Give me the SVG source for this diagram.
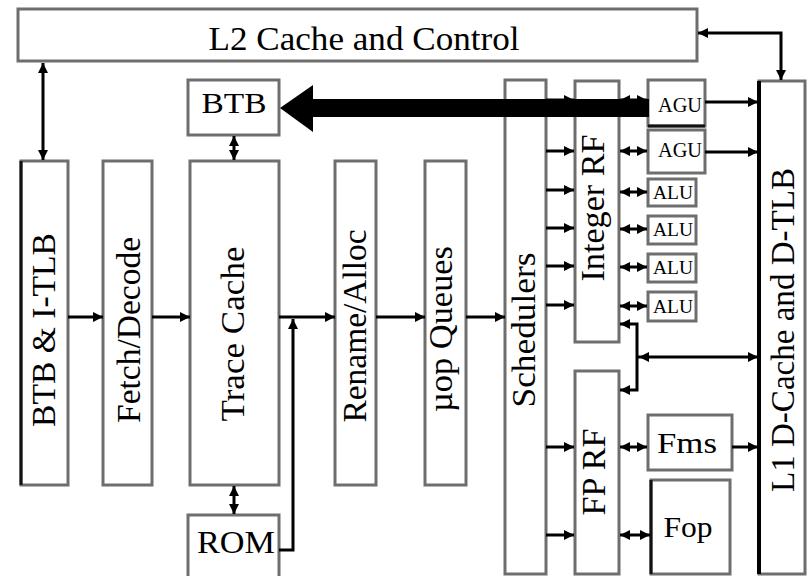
<svg xmlns="http://www.w3.org/2000/svg" width="807" height="576" viewBox="0 0 807 576">
<style>
.box{fill:#fff;stroke:#6e6e6e;stroke-width:3}
.dk{stroke:#111;stroke-width:3;fill:none}
.t{font-family:"Liberation Serif","Times New Roman",serif;fill:#000}
.c{stroke:#000;stroke-width:3;fill:none}
</style>
<defs>
<marker id="ah" viewBox="0 0 10 10" refX="10" refY="5" markerWidth="10" markerHeight="10" markerUnits="userSpaceOnUse" orient="auto-start-reverse">
<path d="M0,0 L10,5 L0,10 z" fill="#000"/>
</marker>
</defs>
<rect width="807" height="576" fill="#fff"/>

<g id="l2"><rect class="box" x="18" y="9" width="679" height="52"/>
<text class="t" x="364" y="50" font-size="33" text-anchor="middle" textLength="311" lengthAdjust="spacingAndGlyphs">L2 Cache and Control</text></g>

<g id="btb"><rect class="box" x="188" y="80" width="91" height="55"/>
<text class="t" x="234" y="113" font-size="30" text-anchor="middle" textLength="65" lengthAdjust="spacingAndGlyphs">BTB</text></g>

<g id="btb-itlb"><rect class="box" x="21" y="161" width="47" height="324"/><line class="dk" x1="21" y1="161" x2="21" y2="485"/>
<text class="t" transform="translate(55,330) rotate(-90)" font-size="33" text-anchor="middle" textLength="194" lengthAdjust="spacingAndGlyphs">BTB &amp; I-TLB</text></g>

<g id="fetch"><rect class="box" x="103" y="161" width="49" height="324"/>
<text class="t" transform="translate(140,330) rotate(-90)" font-size="33" text-anchor="middle" textLength="186" lengthAdjust="spacingAndGlyphs">Fetch/Decode</text></g>

<g id="trace"><rect class="box" x="190" y="161" width="89" height="324"/>
<text class="t" transform="translate(244,334) rotate(-90)" font-size="33" text-anchor="middle" textLength="175" lengthAdjust="spacingAndGlyphs">Trace Cache</text></g>

<g id="rom"><rect class="box" x="188" y="515" width="91" height="70"/>
<text class="t" x="236" y="553" font-size="32" text-anchor="middle" textLength="78" lengthAdjust="spacingAndGlyphs">ROM</text></g>

<g id="rename"><rect class="box" x="335" y="161" width="41" height="324"/>
<text class="t" transform="translate(366,326) rotate(-90)" font-size="33" text-anchor="middle" textLength="193" lengthAdjust="spacingAndGlyphs">Rename/Alloc</text></g>

<g id="uop"><rect class="box" x="425" y="161" width="41" height="324"/>
<text class="t" transform="translate(452,329) rotate(-90)" font-size="33" text-anchor="middle" textLength="166" lengthAdjust="spacingAndGlyphs">µop Queues</text></g>

<g id="sched"><rect class="box" x="505" y="80" width="41" height="494"/>
<text class="t" transform="translate(535,330) rotate(-90)" font-size="33" text-anchor="middle" textLength="155" lengthAdjust="spacingAndGlyphs">Schedulers</text></g>

<g id="intrf"><rect class="box" x="575" y="81" width="44" height="261"/>
<text class="t" transform="translate(604,208) rotate(-90)" font-size="33" text-anchor="middle" textLength="147" lengthAdjust="spacingAndGlyphs">Integer RF</text></g>

<g id="fprf"><rect class="box" x="575" y="371" width="44" height="203"/>
<text class="t" transform="translate(605,472) rotate(-90)" font-size="33" text-anchor="middle" textLength="87" lengthAdjust="spacingAndGlyphs">FP RF</text></g>

<g id="agu1"><rect class="box" x="648" y="80" width="57" height="46"/><line class="dk" x1="648" y1="126" x2="705" y2="126"/>
<text class="t" x="680" y="112" font-size="20" text-anchor="middle" textLength="44" lengthAdjust="spacingAndGlyphs">AGU</text></g>
<g id="agu2"><rect class="box" x="648" y="130" width="57" height="43"/>
<text class="t" x="680" y="157" font-size="20" text-anchor="middle" textLength="44" lengthAdjust="spacingAndGlyphs">AGU</text></g>

<g id="alu1"><rect class="box" x="648" y="179" width="48" height="27" stroke="#222"/>
<text class="t" x="673" y="199" font-size="18" text-anchor="middle" textLength="40" lengthAdjust="spacingAndGlyphs">ALU</text></g>
<g id="alu2"><rect class="box" x="648" y="216" width="48" height="28" stroke="#222"/>
<text class="t" x="673" y="236" font-size="18" text-anchor="middle" textLength="40" lengthAdjust="spacingAndGlyphs">ALU</text></g>
<g id="alu3"><rect class="box" x="648" y="254" width="48" height="28" stroke="#222"/>
<text class="t" x="673" y="274" font-size="18" text-anchor="middle" textLength="40" lengthAdjust="spacingAndGlyphs">ALU</text></g>
<g id="alu4"><rect class="box" x="648" y="292" width="48" height="29" stroke="#222"/>
<text class="t" x="673" y="313" font-size="18" text-anchor="middle" textLength="40" lengthAdjust="spacingAndGlyphs">ALU</text></g>

<g id="fms"><rect class="box" x="648" y="415" width="84" height="55"/>
<text class="t" x="687" y="453" font-size="30" text-anchor="middle" textLength="60" lengthAdjust="spacingAndGlyphs">Fms</text></g>
<g id="fop"><rect class="box" x="651" y="480" width="79" height="94"/><line class="dk" x1="651" y1="480" x2="651" y2="574"/>
<text class="t" x="688" y="537" font-size="30" text-anchor="middle" textLength="49" lengthAdjust="spacingAndGlyphs">Fop</text></g>

<g id="l1"><rect class="box" x="759" y="81" width="46" height="493"/><line x1="759" y1="81" x2="759" y2="574" stroke="#000" stroke-width="4"/>
<text class="t" transform="translate(794,330) rotate(-90)" font-size="33" text-anchor="middle" textLength="324" lengthAdjust="spacingAndGlyphs">L1 D-Cache and D-TLB</text></g>

<g id="connectors">
<line class="c" x1="43" y1="63" x2="43" y2="160" marker-start="url(#ah)" marker-end="url(#ah)"/>
<polyline class="c" points="698,33 781,33 781,80" marker-start="url(#ah)" marker-end="url(#ah)"/>
<line class="c" x1="234" y1="136" x2="234" y2="160" marker-start="url(#ah)" marker-end="url(#ah)"/>
<line class="c" x1="234" y1="486" x2="234" y2="514" marker-start="url(#ah)" marker-end="url(#ah)"/>
<line class="c" x1="68" y1="317" x2="103" y2="317" marker-end="url(#ah)"/>
<line class="c" x1="152" y1="317" x2="190" y2="317" marker-end="url(#ah)"/>
<line class="c" x1="279" y1="317" x2="335" y2="317" marker-end="url(#ah)"/>
<line class="c" x1="376" y1="317" x2="425" y2="317" marker-end="url(#ah)"/>
<line class="c" x1="466" y1="317" x2="505" y2="317" marker-end="url(#ah)"/>
<polyline class="c" points="279,550 293,550 293,319" marker-end="url(#ah)"/>
<line class="c" x1="546" y1="100" x2="574" y2="100" marker-end="url(#ah)"/>
<line class="c" x1="546" y1="151" x2="574" y2="151" marker-end="url(#ah)"/>
<line class="c" x1="546" y1="190" x2="574" y2="190" marker-end="url(#ah)"/>
<line class="c" x1="546" y1="228" x2="574" y2="228" marker-end="url(#ah)"/>
<line class="c" x1="546" y1="266" x2="574" y2="266" marker-end="url(#ah)"/>
<line class="c" x1="546" y1="305" x2="574" y2="305" marker-end="url(#ah)"/>
<line class="c" x1="546" y1="447" x2="574" y2="447" marker-end="url(#ah)"/>
<line class="c" x1="546" y1="535" x2="574" y2="535" marker-end="url(#ah)"/>
<line class="c" x1="620" y1="100" x2="647" y2="100" marker-start="url(#ah)" marker-end="url(#ah)"/>
<line class="c" x1="620" y1="151" x2="647" y2="151" marker-start="url(#ah)" marker-end="url(#ah)"/>
<line class="c" x1="620" y1="192" x2="647" y2="192" marker-start="url(#ah)" marker-end="url(#ah)"/>
<line class="c" x1="620" y1="229" x2="647" y2="229" marker-start="url(#ah)" marker-end="url(#ah)"/>
<line class="c" x1="620" y1="267" x2="647" y2="267" marker-start="url(#ah)" marker-end="url(#ah)"/>
<line class="c" x1="620" y1="306" x2="647" y2="306" marker-start="url(#ah)" marker-end="url(#ah)"/>
<line class="c" x1="620" y1="447" x2="647" y2="447" marker-start="url(#ah)" marker-end="url(#ah)"/>
<line class="c" x1="620" y1="535" x2="650" y2="535" marker-start="url(#ah)" marker-end="url(#ah)"/>
<polyline class="c" points="620,324 637,324 637,390 620,390" marker-start="url(#ah)" marker-end="url(#ah)"/>
<line class="c" x1="637" y1="357" x2="758" y2="357" marker-end="url(#ah)"/>
<path d="M639,352 L649,357 L639,362 z" fill="#000" transform="rotate(180 644 357)"/>
<line class="c" x1="705" y1="102" x2="758" y2="102" marker-end="url(#ah)"/>
<line class="c" x1="705" y1="152" x2="758" y2="152" marker-end="url(#ah)"/>
<line class="c" x1="732" y1="447" x2="758" y2="447" marker-end="url(#ah)"/>
<polygon points="649,99 313,99 313,85 280,108 313,132 313,117 649,117" fill="#000"/>
</g>
</svg>
